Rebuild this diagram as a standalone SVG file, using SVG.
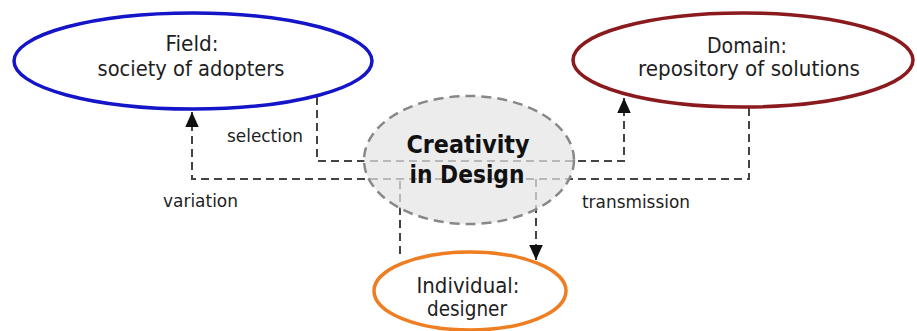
<svg xmlns="http://www.w3.org/2000/svg" width="917" height="331" viewBox="0 0 917 331">
  <defs>
    <marker id="arrow" viewBox="0 0 10 10" refX="10" refY="5" markerWidth="15" markerHeight="15" markerUnits="userSpaceOnUse" orient="auto">
      <path d="M0,0.5 L10,5 L0,9.5 z" fill="#111"/>
    </marker>
    <style>
      .bg { fill: #ffffff; }
      .label { font-family: "DejaVu Sans Condensed", "DejaVu Sans", sans-serif; font-size: 21px; fill: #1e1e1e; text-anchor: middle; }
      .flow { font-family: "DejaVu Sans Condensed", "DejaVu Sans", sans-serif; font-size: 17px; fill: #1e1e1e; }
      .core { font-family: "DejaVu Sans Condensed", "DejaVu Sans", sans-serif; font-size: 24px; font-weight: bold; fill: #111; text-anchor: middle; }
      .link { fill: none; stroke: #444; stroke-width: 2; stroke-dasharray: 8 5; }
      .node { fill: #ffffff; stroke-width: 3.5; }
    </style>
  </defs>
  <rect class="bg" x="0" y="0" width="917" height="331"/>

  <!-- dashed flows between the three systems -->
  <g id="connectors">
    <!-- field -> domain (selection) -->
    <path class="link" d="M317,97 V161 H624 V98" marker-end="url(#arrow)"/>
    <!-- domain -> field (variation / transmission) -->
    <path class="link" d="M749,108 V179 H192 V112" marker-end="url(#arrow)"/>
    <!-- individual -> flow -->
    <path class="link" d="M400,254 V179"/>
    <!-- flow -> individual -->
    <path class="link" d="M536,179 V260" marker-end="url(#arrow)"/>
  </g>

  <g id="field">
    <ellipse class="node" cx="193" cy="61" rx="179" ry="48" stroke="#1414c8"/>
    <text class="label" x="192" y="51" textLength="53" lengthAdjust="spacingAndGlyphs">Field:</text>
    <text class="label" x="191" y="76" textLength="187" lengthAdjust="spacingAndGlyphs">society of adopters</text>
  </g>

  <g id="domain">
    <ellipse class="node" cx="743" cy="60" rx="170" ry="47" stroke="#8a1a1e"/>
    <text class="label" x="747" y="53" textLength="80" lengthAdjust="spacingAndGlyphs">Domain:</text>
    <text class="label" x="749" y="76" textLength="222" lengthAdjust="spacingAndGlyphs">repository of solutions</text>
  </g>

  <g id="creativity">
    <ellipse cx="469" cy="160" rx="105" ry="64" fill="#e4e4e4" fill-opacity="0.72" stroke="#888" stroke-width="2.5" stroke-dasharray="10 6"/>
    <text class="core" x="468" y="153" textLength="123" lengthAdjust="spacingAndGlyphs">Creativity</text>
    <text class="core" x="467" y="183" textLength="115" lengthAdjust="spacingAndGlyphs">in Design</text>
  </g>

  <g id="individual">
    <ellipse class="node" cx="470" cy="291" rx="96" ry="39" stroke="#ef7d22"/>
    <text class="label" x="468" y="293" textLength="103" lengthAdjust="spacingAndGlyphs">Individual:</text>
    <text class="label" x="467" y="316" textLength="80" lengthAdjust="spacingAndGlyphs">designer</text>
  </g>

  <g id="flow-labels">
    <text class="flow" x="227" y="142" textLength="76" lengthAdjust="spacingAndGlyphs">selection</text>
    <text class="flow" x="163" y="207" textLength="75" lengthAdjust="spacingAndGlyphs">variation</text>
    <text class="flow" x="582" y="208" textLength="108" lengthAdjust="spacingAndGlyphs">transmission</text>
  </g>
</svg>
